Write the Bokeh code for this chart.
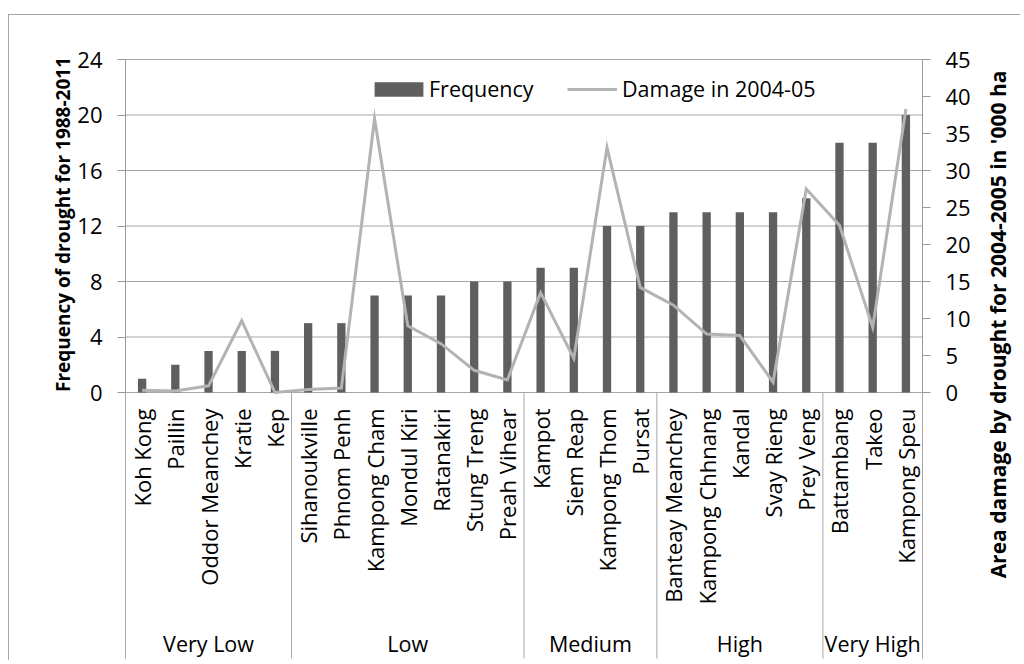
import numpy as np
from bokeh.plotting import figure
from bokeh.models import (Range1d, LinearAxis, FixedTicker, Legend, LegendItem)
from bokeh.core.properties import value
from bokeh.embed import file_html
from bokeh.resources import INLINE

# ---------------- data ----------------
groups = ["Very Low", "Low", "Medium", "High", "Very High"]
group_sizes = [5, 7, 4, 5, 3]
provinces = ["Koh Kong", "Paillin", "Oddor Meanchey", "Kratie", "Kep",
             "Sihanoukville", "Phnom Penh", "Kampong Cham", "Mondul Kiri",
             "Ratanakiri", "Stung Treng", "Preah Vihear",
             "Kampot", "Siem Reap", "Kampong Thom", "Pursat",
             "Banteay Meanchey", "Kampong Chhnang", "Kandal", "Svay Rieng", "Prey Veng",
             "Battambang", "Takeo", "Kampong Speu"]
frequency = [1, 2, 3, 3, 3, 5, 5, 7, 7, 7, 8, 8, 9, 9, 12, 12, 13, 13, 13, 13, 14, 18, 18, 20]
damage = [0.3, 0.2, 0.9, 9.7, 0.0, 0.4, 0.6, 37.0, 9.0, 6.6, 3.0, 1.7,
          13.5, 4.6, 33.1, 14.2, 11.8, 7.9, 7.7, 1.4, 27.5, 22.6, 8.8, 38.3]
left_ticks = [0, 4, 8, 12, 16, 20, 24]
right_ticks = [0, 5, 10, 15, 20, 25, 30, 35, 40, 45]
left_title = "Frequency of drought for 1988-2011"
right_title = "Area damage by drought for 2004-2005 in '000 ha"
legend_labels = ["Frequency", "Damage in 2004-05"]

# ---------------- layout / style (page pixels) ----------------
FONT = "Open Sans"
BAR = "#5f5f5f"
LINE = "#b3b3b3"
GRID = "#a6a6a6"
AXIS = "#999999"
CANVAS_X0, CANVAS_Y0 = 9, 15          # canvas origin on page (after margin + border)
FIG_W, FIG_H = 1012, 646
PLOT_L, PLOT_R, PLOT_T, PLOT_0 = 125, 922, 59, 392
LEFT_MAX, RIGHT_MAX = 24, 45
n = len(provinces)

ppc = (PLOT_R - PLOT_L) / n
ppu = (PLOT_0 - PLOT_T) / LEFT_MAX
ppu_r = (PLOT_0 - PLOT_T) / RIGHT_MAX

def dx(px):
    return (px - PLOT_L) / ppc

def dy(py):
    return (PLOT_0 - py) / ppu

def dy_r(py):
    return (PLOT_0 - py) / ppu_r

p = figure(width=FIG_W, height=FIG_H,
           x_range=Range1d(dx(CANVAS_X0), dx(CANVAS_X0 + FIG_W)),
           y_range=Range1d(dy(CANVAS_Y0 + FIG_H), dy(CANVAS_Y0)),
           output_backend="svg", toolbar_location=None,
           x_axis_location=None, y_axis_location=None,
           min_border_left=0, min_border_right=0,
           min_border_top=0, min_border_bottom=0)
p.extra_y_ranges = {"dmg": Range1d(dy_r(CANVAS_Y0 + FIG_H), dy_r(CANVAS_Y0))}
p.outline_line_color = None
p.grid.visible = False
p.background_fill_color = "white"
p.border_fill_color = "white"
p.styles = {"margin-top": "14px", "margin-left": "8px",
            "border-left": "1px solid #a6a6a6", "border-top": "1px solid #a6a6a6"}

xs = np.arange(n) + 0.5

# horizontal gridlines across the plot area
p.segment(x0=[0] * len(left_ticks), x1=[n] * len(left_ticks), y0=left_ticks, y1=left_ticks,
          line_color=GRID, line_width=1)

def style_axis(ax):
    ax.axis_line_color = AXIS
    ax.major_tick_line_color = AXIS
    ax.major_tick_in = 0
    ax.major_tick_out = 8
    ax.minor_tick_out = 0
    ax.minor_tick_in = 0
    ax.major_label_standoff = 15
    ax.major_label_text_font = FONT
    ax.major_label_text_font_size = "22px"
    ax.major_label_text_color = "black"

lax = LinearAxis(ticker=FixedTicker(ticks=left_ticks), bounds=(0, LEFT_MAX), fixed_location=0)
style_axis(lax)
p.add_layout(lax, "left")
rax = LinearAxis(y_range_name="dmg", ticker=FixedTicker(ticks=right_ticks),
                 bounds=(0, RIGHT_MAX), fixed_location=n)
style_axis(rax)
p.add_layout(rax, "right")

# group separators of the category axis
bounds = np.concatenate([[0], np.cumsum(group_sizes)]).astype(float)
p.segment(x0=bounds, x1=bounds, y0=[0] * len(bounds), y1=[dy(658)] * len(bounds),
          line_color=GRID, line_width=1)

bars = p.vbar(x=xs, top=frequency, bottom=0, width=0.25,
              fill_color=BAR, line_color=None)
line = p.line(x=xs, y=damage, y_range_name="dmg",
              line_color=LINE, line_width=3, line_join="miter")

# category labels
p.text(x=xs, y=[dy(408)] * n, text=provinces,
       angle=np.pi / 2, text_align="right", text_baseline="middle",
       text_font=value(FONT), text_font_size="22px", text_color="black")
centers = (bounds[:-1] + bounds[1:]) / 2
p.text(x=centers, y=[dy(643)] * len(groups), text=groups,
       text_align="center", text_baseline="middle",
       text_font=value(FONT), text_font_size="21.5px", text_color="black")

# axis titles
p.text(x=[dx(62)], y=[dy(224)], text=[left_title], angle=np.pi / 2,
       text_align="center", text_baseline="middle", text_font=value(FONT),
       text_font_size="19px", text_font_style="bold", text_color="black")
p.text(x=[dx(997)], y=[dy(324)], text=[right_title], angle=np.pi / 2,
       text_align="center", text_baseline="middle", text_font=value(FONT),
       text_font_size="21px", text_font_style="bold", text_color="black")

# legend (two single-item legends so each glyph gets its own size)
leg_common = dict(orientation="horizontal", padding=0, margin=0, border_line_color=None,
                  background_fill_alpha=0, label_text_font=FONT,
                  label_text_font_size="21.5px", label_text_color="black")
leg1 = Legend(items=[LegendItem(label=legend_labels[0], renderers=[bars])],
              location=(374 - 6 - CANVAS_X0, 558), glyph_width=61, glyph_height=18,
              label_standoff=0, **leg_common)
leg2 = Legend(items=[LegendItem(label=legend_labels[1], renderers=[line])],
              location=(567 - CANVAS_X0, 558), glyph_width=50, glyph_height=18,
              label_standoff=5, **leg_common)
p.add_layout(leg1, "center")
p.add_layout(leg2, "center")

open("out.html", "w").write(file_html(p, INLINE))
